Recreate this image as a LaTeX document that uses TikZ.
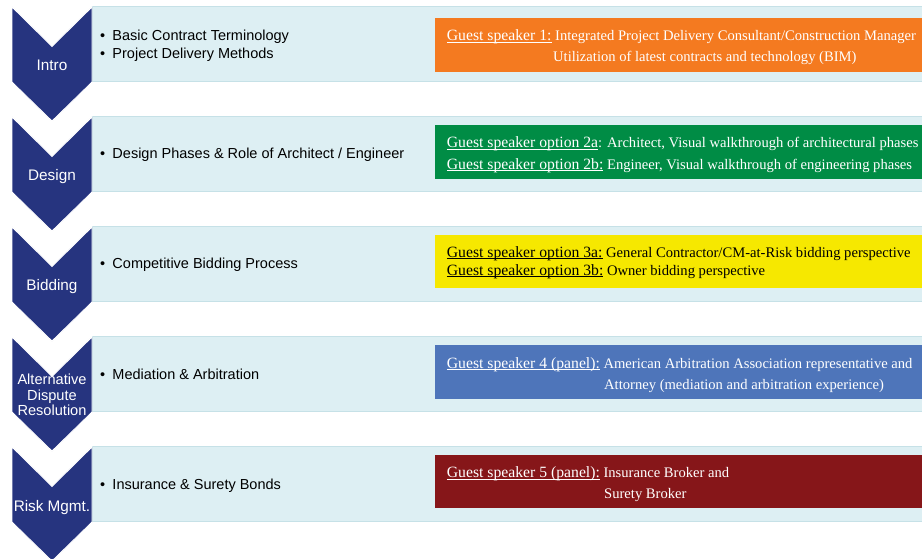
\documentclass[tikz,border=0pt]{standalone}
\usepackage{fontspec}
\setmainfont{Liberation Serif}
\setsansfont{Liberation Sans}
\definecolor{navy}{HTML}{26347F}
\definecolor{rowfill}{HTML}{DDEFF3}
\definecolor{rowline}{HTML}{C6E1E7}
\definecolor{spOrange}{HTML}{F47A20}
\definecolor{spGreen}{HTML}{008C45}
\definecolor{spYellow}{HTML}{F6E800}
\definecolor{spBlue}{HTML}{4E75BA}
\definecolor{spRed}{HTML}{861619}
\newcommand\spkul[1]{{\fontsize{15.7}{18}\selectfont\setbox0\hbox{#1}\rlap{\rule[-2pt]{\wd0}{1pt}}\box0}}
\newcommand\bitem[1]{\makebox[12.3pt][l]{\textbullet}#1}
\begin{document}
\begin{tikzpicture}[x=1pt,y=-1pt,
  rowbox/.style={fill=rowfill,draw=rowline,line width=0.8pt},
  chevron/.style={fill=navy,draw=white,line width=0.8pt},
  chevlabel/.style={text=white,font=\sffamily\fontsize{15.3}{16}\selectfont,inner sep=0pt,anchor=base},
  adrlabel/.style={text=white,font=\sffamily\fontsize{14.6}{16}\selectfont,inner sep=0pt,anchor=base},
  bullettext/.style={font=\sffamily\fontsize{14.5}{18}\selectfont,anchor=base west,inner sep=0pt},
  spktext/.style={font=\fontsize{14.6}{17}\selectfont,anchor=base west,inner sep=0pt},
]
\useasboundingbox (0,0) rectangle (922,559);
\fill[white] (0,0) rectangle (922,559);
% rows and chevrons
\foreach \i in {0,...,4} {
  \pgfmathsetmacro\t{6.5+110*\i}
  \draw[rowbox] (92,\t) rectangle (924,\t+75);
  \filldraw[chevron] (12,\t+0.5) -- (52,\t+40) -- (92,\t+0.5) -- (92,\t+75.5) -- (52,\t+114.5) -- (12,\t+75.5) -- cycle;
}
% chevron labels
\node[chevlabel] (intro) at (52,70.5) {Intro};
\node[chevlabel] (design) at (52,180.5) {Design};
\node[chevlabel] (bidding) at (52,290.5) {Bidding};
\node[adrlabel] (adr1) at (52,384.5) {Alternative};
\node[adrlabel] (adr2) at (52,400.2) {Dispute};
\node[adrlabel] (adr3) at (52,415.8) {Resolution};
\node[chevlabel] (risk) at (52,511) {Risk Mgmt.};
% bullet texts
\node[bullettext] (b1a) at (100,40.7) {\bitem{Basic Contract Terminology}};
\node[bullettext] (b1b) at (100,58.7) {\bitem{Project Delivery Methods}};
\node[bullettext] (b2) at (100,159) {\bitem{Design Phases \& Role of Architect / Engineer}};
\node[bullettext] (b3) at (100,269) {\bitem{Competitive Bidding Process}};
\node[bullettext] (b4) at (100,379) {\bitem{Mediation \& Arbitration}};
\node[bullettext] (b5) at (100,489) {\bitem{Insurance \& Surety Bonds}};
% speaker boxes
\fill[spOrange] (435,18) rectangle (924,72);
\fill[spGreen] (435,125) rectangle (924,179);
\fill[spYellow] (435,235) rectangle (924,288.3);
\fill[spBlue] (435,345) rectangle (924,398.7);
\fill[spRed] (435,455) rectangle (924,508.3);
% speaker texts
\node[spktext,text=white] (s1a) at (446.7,41) {\spkul{Guest speaker 1:} Integrated Project Delivery Consultant/Construction Manager};
\node[spktext,text=white] (s1b) at (553,62) {Utilization of latest contracts and technology (BIM)};
\node[spktext,text=white] (s2a) at (446.7,148) {\spkul{Guest speaker option 2a}: Architect, Visual walkthrough of architectural phases};
\node[spktext,text=white] (s2b) at (446.7,169.5) {\spkul{Guest speaker option 2b:} Engineer, Visual walkthrough of engineering phases};
\node[spktext,text=black] (s3a) at (446.7,257.5) {\spkul{Guest speaker option 3a:} General Contractor/CM-at-Risk bidding perspective};
\node[spktext,text=black] (s3b) at (446.7,275) {\spkul{Guest speaker option 3b:} Owner bidding perspective};
\node[spktext,text=white] (s4a) at (446.7,368) {\spkul{Guest speaker 4 (panel):} American Arbitration Association representative and};
\node[spktext,text=white] (s4b) at (604,389) {Attorney (mediation and arbitration experience)};
\node[spktext,text=white] (s5a) at (446.7,477.5) {\spkul{Guest speaker 5 (panel):} Insurance Broker and};
\node[spktext,text=white] (s5b) at (604,498) {Surety Broker};
\end{tikzpicture}
\end{document}
